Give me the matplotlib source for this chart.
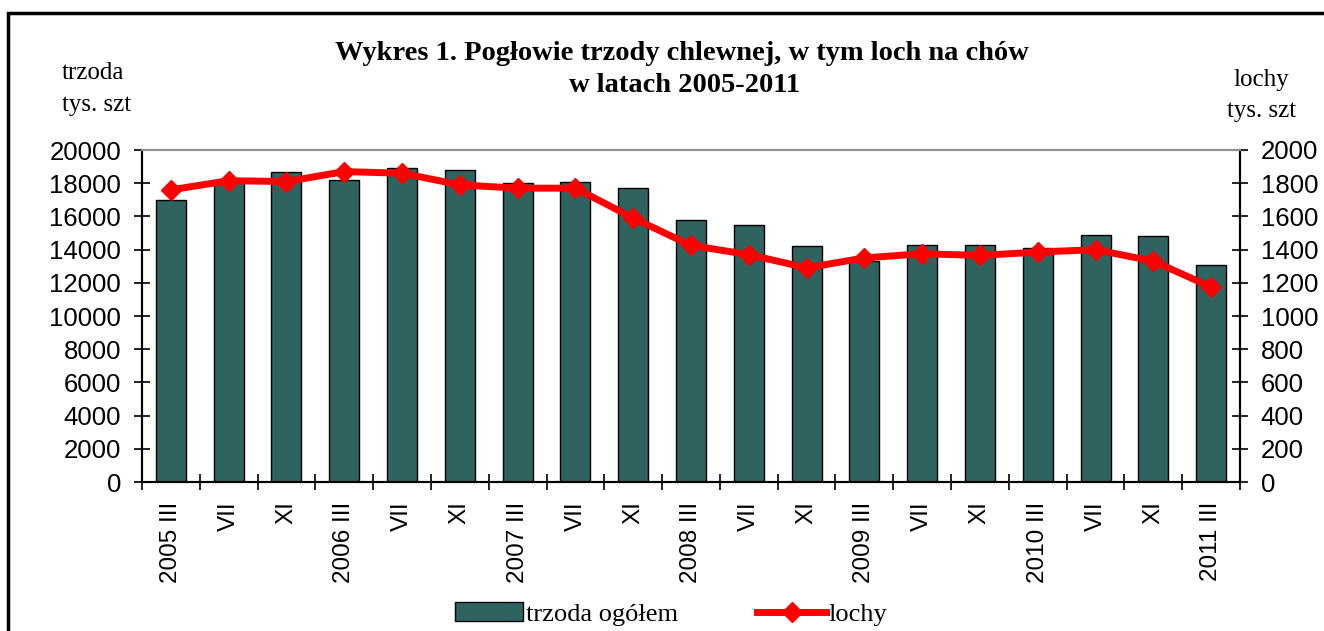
# chart of pig herd and sows 2005-2011 (bars + line on second axis)

import numpy as np
import matplotlib
matplotlib.use("Agg")
import matplotlib.pyplot as plt
from matplotlib.patches import Rectangle

# data
labels = ["2005 III", "VII", "XI", "2006 III", "VII", "XI", "2007 III", "VII", "XI",
          "2008 III", "VII", "XI", "2009 III", "VII", "XI", "2010 III", "VII", "XI", "2011 III"]
trzoda = [17000, 18100, 18700, 18200, 18900, 18800, 18000, 18100, 17700,
          15800, 15500, 14200, 13300, 14300, 14300, 14100, 14900, 14800, 13100]
lochy = [1760, 1815, 1810, 1870, 1860, 1790, 1770, 1770, 1590,
         1425, 1370, 1290, 1350, 1375, 1365, 1385, 1400, 1330, 1175]

left_ticks = list(range(0, 20001, 2000))
right_ticks = list(range(0, 2001, 200))

sans = "Liberation Sans"
serif = "Liberation Serif"
bar_color = "#2f6360"

fig = plt.figure(figsize=(13.24, 6.31), dpi=100)
fig.patch.set_facecolor("white")

# black frame round the chart (goes off the right and bottom edge)
fig.patches.append(Rectangle((8 / 1324, -0.1), 1.2, 1 - 13 / 631 + 0.1,
                             transform=fig.transFigure, fill=False,
                             edgecolor="black", linewidth=2.5))

ax = fig.add_axes([142 / 1324, 1 - 482 / 631, (1240 - 142) / 1324, (482 - 150) / 631])
x = np.arange(len(labels))

# bars for the whole herd
ax.bar(x, trzoda, width=0.52, color=bar_color, edgecolor="black", linewidth=1,
       label="trzoda ogółem", zorder=2)
ax.set_xlim(-0.5, len(labels) - 0.5)
ax.set_ylim(0, 20000)
ax.set_yticks(left_ticks)
ax.set_yticklabels([str(v) for v in left_ticks], fontfamily=sans, fontsize=18.5)
ax.set_xticks(x)
ax.set_xticklabels(labels, rotation=90, fontfamily=sans, fontsize=17.5)
ax.set_xticks(np.arange(-0.5, len(labels), 1), minor=True)
ax.tick_params(axis="x", which="major", length=0, pad=14)
ax.tick_params(axis="x", which="minor", direction="inout", length=12, width=1.2)
ax.tick_params(axis="y", direction="inout", length=12, width=1.2, pad=9, colors="black")

# right axis for the sows
ax2 = ax.twinx()
ax2.plot(x, lochy, color="#ff0000", linewidth=5, marker="D", markersize=10,
         label="lochy", zorder=3)
ax2.set_ylim(0, 2000)
ax2.set_yticks(right_ticks)
ax2.set_yticklabels([str(v) for v in right_ticks], fontfamily=sans, fontsize=18.5)
ax2.tick_params(axis="y", direction="inout", length=12, width=1.2, pad=9)

for a in (ax, ax2):
    a.spines["top"].set_color("#909090")
    a.spines["top"].set_linewidth(1.5)
    for s in ("left", "right", "bottom"):
        a.spines[s].set_linewidth(1.5)
        a.spines[s].set_color("black")

# titles and unit labels
fig.text(682 / 1324, 1 - 54 / 631, "Wykres 1. Pogłowie trzody chlewnej, w tym loch na chów",
         ha="center", va="center", fontfamily=serif, fontweight="bold", fontsize=20.5)
fig.text(685 / 1324, 1 - 86 / 631, "w latach 2005-2011",
         ha="center", va="center", fontfamily=serif, fontweight="bold", fontsize=20.5)
fig.text(62 / 1324, 1 - 73 / 631, "trzoda", ha="left", va="center", fontfamily=serif, fontsize=18)
fig.text(62 / 1324, 1 - 105 / 631, "tys. szt", ha="left", va="center", fontfamily=serif, fontsize=18)
fig.text(1233 / 1324, 1 - 80 / 631, "lochy", ha="left", va="center", fontfamily=serif, fontsize=18)
fig.text(1227 / 1324, 1 - 111 / 631, "tys. szt", ha="left", va="center", fontfamily=serif, fontsize=18)

# legend under the chart
h1, l1 = ax.get_legend_handles_labels()
h2, l2 = ax2.get_legend_handles_labels()
fig.legend(h1 + h2, l1 + l2, loc="center", bbox_to_anchor=(671 / 1324, 1 - 614 / 631),
           ncol=2, frameon=False, prop={"family": serif, "size": 19},
           handlelength=2.6, handletextpad=0.1, columnspacing=3.0, borderaxespad=0)

plt.savefig("out.png", dpi=100)
